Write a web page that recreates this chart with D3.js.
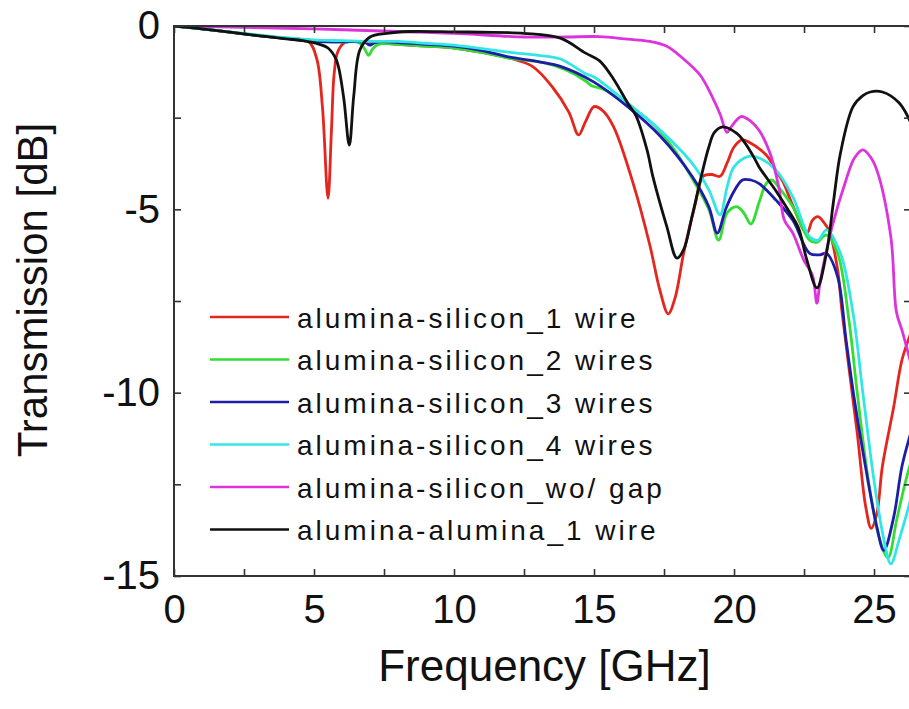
<!DOCTYPE html>
<html>
<head>
<meta charset="utf-8">
<script src="https://cdn.jsdelivr.net/npm/d3@7"></script>
<style>
  body { margin: 0; background: #fff; }
  svg { display: block; font-family: "Liberation Sans", Arial, sans-serif; }
</style>
</head>
<body>
<svg id="chart" width="909" height="709"></svg>
<script>
// values: [frequency GHz, transmission dB]
const aluSi1Wire = [[0,0],[1,-0.08],[2,-0.17],[3,-0.26],[4,-0.34],[4.8,-0.42],[5.1,-0.9],[5.3,-2.2],[5.5,-4.7],[5.62,-2.9],[5.72,-1.3],[5.85,-0.7],[6.1,-0.45],[7,-0.45],[8,-0.5],[9,-0.55],[10,-0.6],[11,-0.72],[12,-0.88],[12.8,-1.1],[13.5,-1.65],[14.1,-2.35],[14.45,-2.97],[14.7,-2.6],[15.0,-2.2],[15.3,-2.3],[15.7,-2.75],[16.4,-4.3],[17.0,-6.0],[17.35,-7.2],[17.65,-7.85],[17.9,-7.4],[18.2,-6.2],[18.6,-4.9],[18.9,-4.1],[19.2,-4.05],[19.5,-4.1],[19.75,-3.74],[20.0,-3.3],[20.3,-3.1],[20.6,-3.2],[20.9,-3.35],[21.2,-3.56],[21.5,-3.95],[21.75,-4.25],[22.1,-4.9],[22.6,-5.65],[22.8,-5.3],[23.0,-5.2],[23.2,-5.35],[23.4,-5.6],[23.7,-6.65],[23.85,-7.75],[24.1,-9.3],[24.4,-11.1],[24.7,-13.1],[24.9,-13.7],[25.1,-13.3],[25.3,-12.0],[25.7,-10.4],[26.0,-9.1],[26.35,-8.3]];
const aluSi2Wires = [[0,0],[1,-0.08],[2,-0.17],[3,-0.26],[4,-0.34],[5,-0.42],[6,-0.44],[6.6,-0.45],[6.8,-0.62],[6.95,-0.8],[7.1,-0.62],[7.3,-0.5],[8,-0.5],[9,-0.55],[10,-0.6],[11,-0.72],[12,-0.88],[13.2,-1.0],[14,-1.2],[14.7,-1.5],[14.9,-1.62],[15.4,-1.75],[16.2,-2.15],[17,-2.6],[17.8,-3.3],[18.5,-4.15],[19.1,-5.0],[19.45,-5.84],[19.75,-5.1],[20.1,-4.93],[20.35,-5.1],[20.6,-5.4],[20.9,-4.8],[21.15,-4.3],[21.35,-4.2],[21.6,-4.4],[22.1,-4.93],[22.7,-5.84],[22.96,-5.9],[23.3,-5.7],[23.7,-6.2],[24.1,-8.0],[24.4,-10.0],[24.8,-12.4],[25.2,-14.0],[25.5,-14.5],[25.8,-13.5],[26.1,-12.5],[26.35,-11.8]];
const aluSi3Wires = [[0,0],[1,-0.08],[2,-0.17],[3,-0.26],[4,-0.34],[5,-0.42],[6,-0.43],[6.8,-0.44],[7.0,-0.52],[7.2,-0.44],[8,-0.45],[9,-0.5],[10,-0.55],[11,-0.67],[12,-0.85],[13,-0.97],[13.8,-1.1],[15,-1.53],[16.2,-2.2],[17.36,-3.0],[18.5,-4.1],[19.1,-4.93],[19.4,-5.65],[19.7,-5.0],[19.96,-4.56],[20.3,-4.2],[20.6,-4.2],[20.9,-4.3],[21.5,-4.75],[22.1,-5.3],[22.7,-6.2],[23.07,-6.24],[23.3,-6.2],[23.7,-6.84],[24.0,-8.56],[24.3,-10.2],[24.6,-11.6],[25.1,-13.66],[25.35,-14.3],[25.7,-13.4],[26.0,-12.0],[26.35,-11.0]];
const aluSi4Wires = [[0,0],[1,-0.08],[2,-0.16],[3,-0.24],[4,-0.32],[5,-0.38],[6,-0.4],[7,-0.42],[8,-0.42],[9,-0.47],[10,-0.52],[11,-0.62],[12,-0.72],[13,-0.8],[13.8,-0.9],[14.7,-1.3],[15,-1.39],[16.2,-2.1],[17.36,-2.84],[18.5,-3.74],[19.1,-4.47],[19.5,-5.15],[19.75,-4.4],[20.0,-3.84],[20.5,-3.56],[20.9,-3.6],[21.5,-3.93],[22.1,-4.66],[22.7,-5.75],[23.0,-5.84],[23.3,-5.56],[23.8,-6.2],[24.25,-7.83],[24.6,-10.0],[25.0,-12.4],[25.35,-14.0],[25.6,-14.67],[25.9,-14.0],[26.35,-12.8]];
const aluSiNoGap = [[0,0],[2,-0.03],[5,-0.08],[8,-0.15],[10,-0.2],[12.5,-0.3],[14,-0.3],[15.2,-0.29],[16.2,-0.36],[17,-0.42],[17.6,-0.55],[18.2,-0.9],[18.8,-1.35],[19.2,-1.9],[19.5,-2.4],[19.75,-2.9],[19.9,-2.75],[20.25,-2.47],[20.6,-2.6],[20.9,-2.85],[21.3,-3.5],[21.6,-4.4],[21.8,-5.3],[22.1,-5.65],[22.5,-6.4],[22.8,-6.8],[22.96,-7.56],[23.07,-7.0],[23.5,-5.48],[24.0,-4.2],[24.3,-3.6],[24.6,-3.38],[24.85,-3.55],[25.1,-3.93],[25.6,-5.75],[25.8,-7.8],[26.0,-8.3],[26.35,-9.3]];
const aluAlu1Wire = [[0,0],[1,-0.08],[2,-0.17],[3,-0.26],[4,-0.35],[4.6,-0.4],[5.2,-0.5],[5.5,-0.6],[5.8,-0.93],[6.05,-1.9],[6.26,-3.25],[6.42,-1.9],[6.64,-0.65],[7.0,-0.3],[7.6,-0.2],[8.4,-0.15],[10,-0.16],[11,-0.17],[12.5,-0.2],[13.8,-0.33],[14.7,-0.74],[15.2,-0.95],[15.7,-1.45],[16.2,-2.1],[16.5,-2.45],[16.9,-3.4],[17.1,-4.1],[17.6,-5.47],[17.96,-6.33],[18.2,-6.1],[18.5,-5.2],[18.8,-4.2],[19.1,-3.3],[19.3,-2.9],[19.6,-2.75],[20.1,-2.93],[20.4,-3.2],[20.7,-3.57],[20.9,-3.85],[21.5,-4.5],[22.0,-5.1],[22.3,-5.5],[22.6,-6.38],[22.96,-7.14],[23.3,-6.2],[23.55,-4.8],[23.8,-3.47],[24.25,-2.2],[24.6,-1.9],[24.86,-1.8],[25.3,-1.8],[25.9,-2.1],[26.35,-2.7]];

const seriesNames = ["alumina-silicon_1 wire", "alumina-silicon_2 wires", "alumina-silicon_3 wires",
                     "alumina-silicon_4 wires", "alumina-silicon_wo/ gap", "alumina-alumina_1 wire"];
const seriesColors = ["#e3261e", "#33dd33", "#1d1da8", "#33e6e6", "#dd33dd", "#111111"];
const seriesData = [aluSi1Wire, aluSi2Wires, aluSi3Wires, aluSi4Wires, aluSiNoGap, aluAlu1Wire];

const xTicks = [0, 2.5, 5, 7.5, 10, 12.5, 15, 17.5, 20, 22.5, 25];
const yTicks = [0, -2.5, -5, -7.5, -10, -12.5, -15];

let series = seriesNames.map((name, i) => ({ name: name, color: seriesColors[i], data: seriesData[i] }));

let svg = d3.select("#chart");
let plotLeft = 174, plotRight = 911, plotTop = 26, plotBottom = 576;

let xScale = d3.scaleLinear().domain([0, 26.32]).range([plotLeft, plotRight]);
let yScale = d3.scaleLinear().domain([-15, 0]).range([plotBottom, plotTop]);

svg.append("clipPath").attr("id", "plotClip")
  .append("rect").attr("x", plotLeft).attr("y", plotTop)
  .attr("width", plotRight - plotLeft).attr("height", plotBottom - plotTop);

// curves
let line = d3.line()
  .x(d => xScale(d[0]))
  .y(d => yScale(d[1]))
  .curve(d3.curveCatmullRom.alpha(0.5));

svg.append("g").attr("clip-path", "url(#plotClip)")
  .selectAll(".curve")
  .data(series)
  .enter()
  .append("path")
  .attr("class", "curve")
  .attr("d", d => line(d.data))
  .style("fill", "none")
  .style("stroke", d => d.color)
  .style("stroke-width", 2.8)
  .style("stroke-linejoin", "round");

// axes, ticks pointing inwards
let fmt = d => (d % 5 === 0 ? d : "");

svg.append("g").attr("transform", `translate(0,${plotBottom})`)
  .call(d3.axisBottom(xScale).tickValues(xTicks).tickSize(-7).tickPadding(19).tickFormat(fmt));
svg.append("g").attr("transform", `translate(0,${plotTop})`)
  .call(d3.axisTop(xScale).tickValues(xTicks).tickSize(-7).tickFormat(""));
svg.append("g").attr("transform", `translate(${plotLeft},0)`)
  .call(d3.axisLeft(yScale).tickValues(yTicks).tickSize(-7).tickPadding(14).tickFormat(fmt));
svg.append("g").attr("transform", `translate(${plotRight},0)`)
  .call(d3.axisRight(yScale).tickValues(yTicks).tickSize(-7).tickFormat(""));

svg.selectAll(".domain").remove();
svg.selectAll(".tick line").style("stroke", "#333").style("stroke-width", 1.6);
svg.selectAll(".tick text")
  .style("font-size", "40px")
  .style("font-family", "'Liberation Sans', Arial, sans-serif")
  .style("fill", "#111");

svg.append("rect")
  .attr("x", plotLeft).attr("y", plotTop)
  .attr("width", plotRight - plotLeft).attr("height", plotBottom - plotTop)
  .style("fill", "none")
  .style("stroke", "#333")
  .style("stroke-width", 2);

// axis titles
svg.append("text")
  .attr("x", (plotLeft + plotRight) / 2 + 2)
  .attr("y", 681)
  .attr("text-anchor", "middle")
  .style("font-size", "44px")
  .style("fill", "#111")
  .text("Frequency [GHz]");

svg.append("text")
  .attr("transform", "translate(47,290) rotate(-90)")
  .attr("text-anchor", "middle")
  .style("font-size", "42px")
  .style("fill", "#111")
  .text("Transmission [dB]");

// legend
let legend = svg.append("g").attr("transform", "translate(210,317)");
let rows = legend.selectAll(".legend-row")
  .data(series)
  .enter()
  .append("g")
  .attr("class", "legend-row")
  .attr("transform", (d, i) => `translate(0,${i * 42.5})`);

rows.append("line")
  .attr("x1", 0).attr("x2", 79)
  .attr("y1", 0).attr("y2", 0)
  .style("stroke", d => d.color)
  .style("stroke-width", 2.6);

rows.append("text")
  .attr("x", 87)
  .attr("y", 10.5)
  .style("font-size", "28px")
  .style("letter-spacing", "3px")
  .style("fill", "#111")
  .text(d => d.name);
</script>
</body>
</html>
